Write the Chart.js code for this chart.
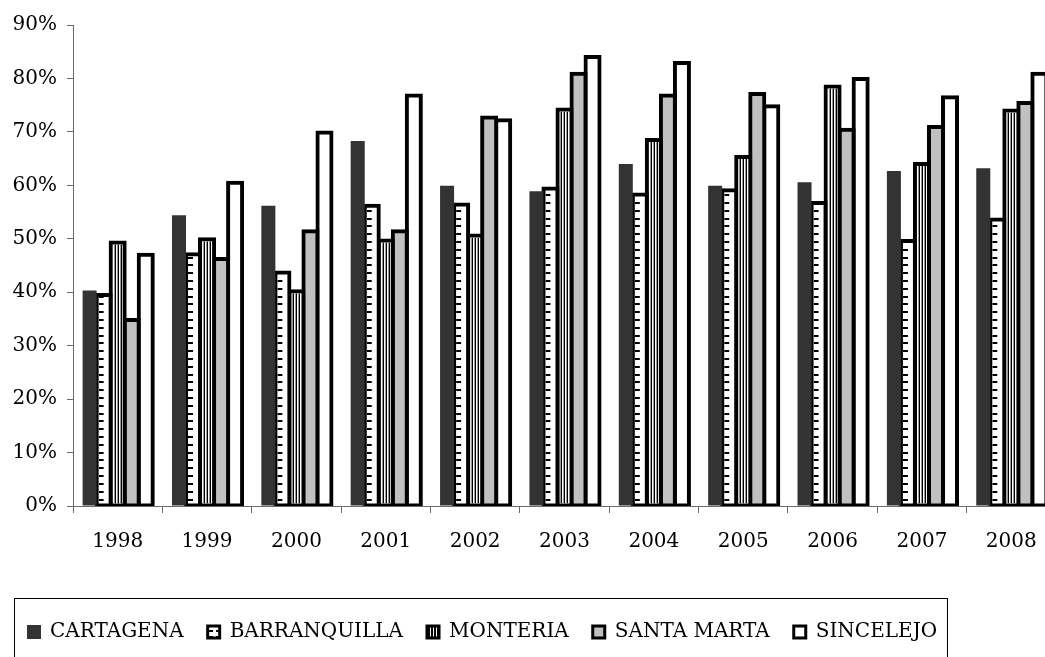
<!DOCTYPE html>
<html>
<head>
<meta charset="utf-8">
<script src="https://cdn.jsdelivr.net/npm/chart.js@4/dist/chart.umd.min.js"></script>
<style>
  html, body { margin: 0; padding: 0; background: #fff; overflow: hidden; }
  #wrap { width: 1056px; height: 672px; position: relative; }
</style>
</head>
<body>
<div id="wrap"><canvas id="barChart"></canvas></div>
<script>
// values (percent)
const years = ['1998', '1999', '2000', '2001', '2002', '2003', '2004', '2005', '2006', '2007', '2008'];
const cartagena    = [40.3, 54.4, 56.2, 68.3, 59.9, 58.9, 64.0, 59.9, 60.6, 62.7, 63.2];
const barranquilla = [39.5, 47.1, 43.7, 56.2, 56.4, 59.4, 58.3, 59.1, 56.7, 49.6, 53.6];
const monteria     = [49.3, 49.9, 40.2, 49.7, 50.6, 74.2, 68.5, 65.3, 78.5, 64.0, 74.0];
const santaMarta   = [34.8, 46.2, 51.4, 51.4, 72.7, 80.9, 76.8, 77.1, 70.4, 70.9, 75.4];
const sincelejo    = [47.0, 60.5, 69.9, 76.8, 72.2, 84.0, 82.9, 74.8, 79.9, 76.5, 80.9];
const seriesNames  = ['CARTAGENA', 'BARRANQUILLA', 'MONTERIA', 'SANTA MARTA', 'SINCELEJO'];

const FONT = 'DejaVu Serif';
const axisGray = '#6b6b6b';

// small canvas patterns, used for the legend markers
function makePattern(w, h, paint) {
    const c = document.createElement('canvas');
    c.width = w; c.height = h;
    paint(c.getContext('2d'));
    return c.getContext('2d').createPattern(c, 'repeat');
}
const dashPattern = makePattern(8, 6, g => {
    g.fillStyle = '#fff'; g.fillRect(0, 0, 8, 6);
    g.fillStyle = '#000'; g.fillRect(0, 0, 5, 2);
});
const stripePattern = makePattern(3, 4, g => {
    g.fillStyle = '#000'; g.fillRect(0, 0, 3, 4);
    g.fillStyle = '#fff'; g.fillRect(1, 0, 1, 4);
});

// inner hatching of the BARRANQUILLA and MONTERIA bars, drawn from each bar's own geometry
const barDecor = {
    id: 'barDecor',
    afterDatasetDraw(chart, args) {
        const i = args.index;
        if (i !== 1 && i !== 2) return;
        const ctx = chart.ctx;
        args.meta.data.forEach(bar => {
            const p = bar.getProps(['x', 'y', 'base', 'width'], true);
            const left = p.x - p.width / 2 + 2;
            const right = p.x + p.width / 2 - 2;
            const top = p.y + 2;
            const bottom = p.base - 2;
            if (right <= left || bottom <= top) return;
            ctx.save();
            ctx.beginPath();
            ctx.rect(left, top, right - left, bottom - top);
            ctx.clip();
            if (i === 1) {
                ctx.fillStyle = '#000';
                for (let yy = bottom - 5; yy > top - 2; yy -= 7.8) {
                    ctx.fillRect(left, Math.round(yy), 5, 2);
                }
            } else {
                for (let xx = Math.round(left) + 1; xx < right; xx += 3) {
                    ctx.fillStyle = '#999999';
                    ctx.fillRect(xx, top, 1, bottom - top);
                    ctx.fillStyle = '#000';
                    ctx.fillRect(xx + 1, top, 1, bottom - top);
                }
            }
            ctx.restore();
        });
    }
};

// thin frame round the legend
const legendFrame = {
    id: 'legendFrame',
    afterDraw(chart) {
        const lg = chart.legend;
        if (!lg || !lg.legendHitBoxes || !lg.legendHitBoxes.length) return;
        const boxes = lg.legendHitBoxes;
        const first = boxes[0];
        const last = boxes[boxes.length - 1];
        const ctx = chart.ctx;
        const l = Math.round(first.left - 14) + 0.5;
        const r = Math.round(last.left + last.width + 10) + 0.5;
        const t = Math.round(lg.top) + 0.5;
        ctx.save();
        ctx.strokeStyle = '#000';
        ctx.lineWidth = 1;
        ctx.strokeRect(l, t, r - l, chart.height + 10 - t);
        ctx.restore();
    }
};

const common = {
    borderColor: '#000',
    borderWidth: 4,
    borderSkipped: false,
    inflateAmount: 2,
    categoryPercentage: 0.785,
    barPercentage: 1.0
};

const ctx = document.getElementById('barChart').getContext('2d');
new Chart(ctx, {
    type: 'bar',
    data: {
        labels: years,
        datasets: [
            { ...common, label: seriesNames[0], data: cartagena, backgroundColor: '#333333', borderWidth: 0, inflateAmount: 0 },
            { ...common, label: seriesNames[1], data: barranquilla, backgroundColor: '#ffffff' },
            { ...common, label: seriesNames[2], data: monteria, backgroundColor: '#ffffff' },
            { ...common, label: seriesNames[3], data: santaMarta, backgroundColor: '#c0c0c0' },
            { ...common, label: seriesNames[4], data: sincelejo, backgroundColor: '#ffffff' }
        ]
    },
    options: {
        responsive: true,
        maintainAspectRatio: false,
        animation: false,
        devicePixelRatio: 1,
        layout: { padding: { top: 25, left: 4, right: 0, bottom: 20 } },
        plugins: {
            legend: {
                position: 'bottom',
                align: 'start',
                labels: {
                    color: '#000',
                    font: { family: FONT, size: 20 },
                    boxWidth: 12,
                    boxHeight: 12,
                    padding: 24,
                    generateLabels(chart) {
                        const items = Chart.defaults.plugins.legend.labels.generateLabels(chart);
                        items.forEach((it, i) => {
                            it.strokeStyle = '#000';
                            it.lineWidth = 3;
                            if (i === 0) { it.fillStyle = '#333333'; it.strokeStyle = '#333333'; it.lineWidth = 2; }
                            if (i === 1) it.fillStyle = dashPattern;
                            if (i === 2) it.fillStyle = stripePattern;
                        });
                        return items;
                    }
                }
            },
            tooltip: { enabled: false }
        },
        scales: {
            x: {
                grid: { display: true, drawOnChartArea: false, drawTicks: true, tickLength: 7, color: axisGray, offset: true },
                border: { display: true, color: axisGray, width: 1 },
                ticks: { color: '#000', font: { family: FONT, size: 20 }, padding: 17, maxRotation: 0 },
                afterFit(scale) { scale.height = 92; }
            },
            y: {
                min: 0,
                max: 90,
                grid: { display: true, drawOnChartArea: false, drawTicks: true, tickLength: 6, color: axisGray },
                border: { display: true, color: axisGray, width: 1 },
                ticks: {
                    stepSize: 10,
                    color: '#000',
                    font: { family: FONT, size: 20 },
                    padding: 10,
                    callback: v => v + '%'
                },
                afterFit(scale) { scale.width = 69; }
            }
        }
    },
    plugins: [barDecor, legendFrame]
});
</script>
</body>
</html>
